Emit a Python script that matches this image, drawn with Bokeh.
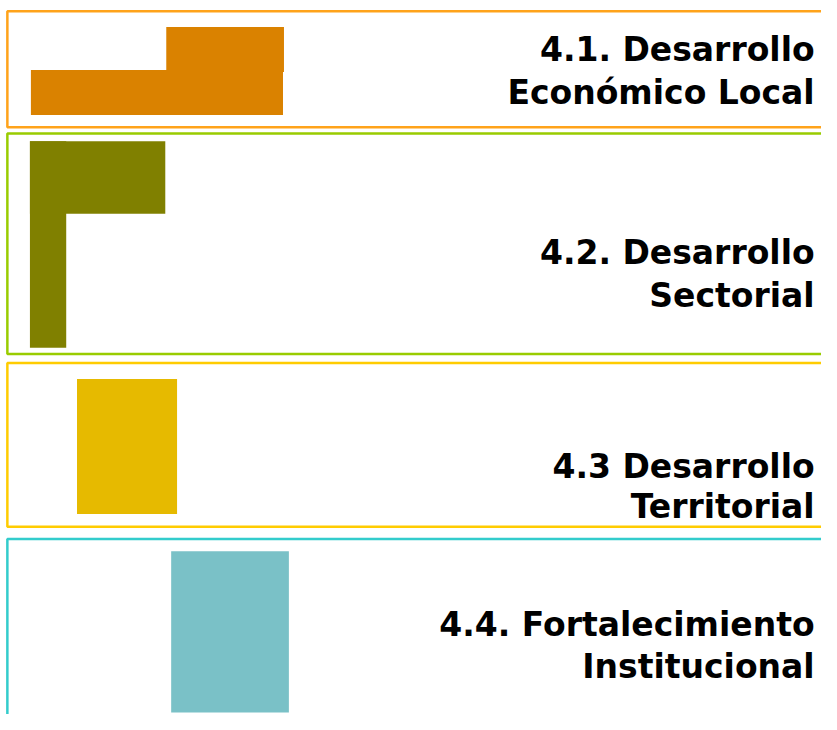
from bokeh.plotting import figure
from bokeh.models import ColumnDataSource, Range1d
from bokeh.core.properties import value
from bokeh.embed import file_html
from bokeh.resources import INLINE

# ---- data (slide coordinate space, 837 x 730 units) ----
panel_names = ["4.1", "4.2", "4.3", "4.4"]
panel_top = [11, 136, 370.5, 550.5]
panel_bottom = [129.5, 361.5, 538, 780]
panel_left = [7, 7, 7, 7]
panel_right = [860, 860, 860, 860]
panel_colors = ["#FFA31A", "#99CC00", "#FFCC00", "#33CCCC"]

block_panel = ["4.1", "4.1", "4.2", "4.2", "4.3", "4.4"]
block_left = [169, 31, 30, 30, 78, 174]
block_right = [289, 288, 168, 67, 180, 294]
block_top = [27, 71, 144, 144, 387, 563]
block_bottom = [73, 117, 218, 355, 525, 728]
block_colors = ["#DA8200", "#DA8200", "#808000", "#808000", "#E6BA00", "#7AC1C7"]

label_text = ["4.1. Desarrollo", "Económico Local",
              "4.2. Desarrollo", "Sectorial",
              "4.3 Desarrollo", "Territorial",
              "4.4. Fortalecimiento", "Institucional"]
label_x = [830] * 8
label_y = [50, 94, 258, 302, 476, 517, 638, 681]

W, H = 821, 714
p = figure(width=W, height=H, output_backend="svg", toolbar_location=None,
           x_range=Range1d(0, 837), y_range=Range1d(730, 0),
           x_axis_location=None, y_axis_location=None, min_border=0)
p.grid.visible = False
p.outline_line_color = None
p.background_fill_color = "white"

p.quad(source=ColumnDataSource(dict(left=block_left, right=block_right,
                                    top=block_top, bottom=block_bottom,
                                    color=block_colors)),
       left="left", right="right", top="top", bottom="bottom",
       fill_color="color", line_color=None)

p.quad(source=ColumnDataSource(dict(left=panel_left, right=panel_right,
                                    top=panel_top, bottom=panel_bottom,
                                    color=panel_colors)),
       left="left", right="right", top="top", bottom="bottom",
       fill_color=None, line_color="color", line_width=2.5)

p.text(source=ColumnDataSource(dict(x=label_x, y=label_y, text=label_text)),
       x="x", y="y", text="text", text_align="right", text_baseline="alphabetic",
       text_font=value("DejaVu Sans"), text_font_style="bold",
       text_font_size="33px", text_color="#000000")

open("out.html", "w").write(file_html(p, INLINE))
